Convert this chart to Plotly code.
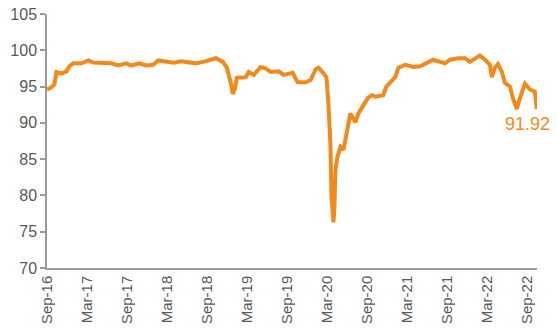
import plotly.graph_objects as go

dates = [
    "2016-09-01", "2016-09-08", "2016-09-21", "2016-10-05", "2016-10-14", "2016-11-06",
    "2016-11-29", "2016-12-12", "2016-12-30", "2017-02-05", "2017-03-09", "2017-03-31",
    "2017-06-21", "2017-07-23", "2017-08-28", "2017-09-20", "2017-10-26", "2017-11-27",
    "2017-12-29", "2018-01-21", "2018-02-26", "2018-04-03", "2018-05-05", "2018-07-12",
    "2018-08-27", "2018-10-11", "2018-11-12", "2018-11-30", "2018-12-18", "2018-12-27",
    "2019-01-05", "2019-01-14", "2019-02-24", "2019-03-10", "2019-04-02", "2019-05-03",
    "2019-05-26", "2019-06-18", "2019-07-24", "2019-08-16", "2019-09-26", "2019-10-19",
    "2019-11-24", "2019-12-17", "2020-01-09", "2020-01-22", "2020-02-09", "2020-02-27",
    "2020-03-07", "2020-03-16", "2020-03-21", "2020-03-30", "2020-04-03", "2020-04-08",
    "2020-04-17", "2020-05-01", "2020-05-15", "2020-06-02", "2020-06-15", "2020-07-08",
    "2020-07-22", "2020-08-09", "2020-09-05", "2020-09-23", "2020-10-07", "2020-11-12",
    "2020-11-26", "2021-01-06", "2021-01-20", "2021-02-20", "2021-03-29", "2021-04-30",
    "2021-06-27", "2021-08-21", "2021-09-13", "2021-10-19", "2021-11-20", "2021-12-12",
    "2022-01-27", "2022-02-19", "2022-03-13", "2022-03-22", "2022-04-05", "2022-04-19",
    "2022-05-07", "2022-05-21", "2022-06-13", "2022-06-26", "2022-07-14", "2022-07-28",
    "2022-08-20", "2022-09-12", "2022-10-04", "2022-10-13",
]
values = [
    94.6, 94.7, 94.9, 95.3, 97.0, 96.8,
    97.1, 97.8, 98.2, 98.2, 98.6, 98.3,
    98.2, 97.9, 98.2, 97.9, 98.2, 97.9,
    98.0, 98.6, 98.4, 98.3, 98.5, 98.2,
    98.5, 98.9, 98.4, 97.6, 95.5, 94.0,
    94.6, 96.2, 96.3, 97.0, 96.6, 97.7,
    97.5, 97.0, 97.1, 96.6, 96.9, 95.6,
    95.6, 95.9, 97.4, 97.6, 97.0, 96.3,
    92.7, 87.2, 80.0, 76.3, 78.0, 83.5,
    85.3, 86.7, 86.3, 89.4, 91.3, 90.1,
    91.3, 92.2, 93.5, 93.8, 93.6, 93.8,
    95.0, 96.3, 97.6, 98.0, 97.7, 97.8,
    98.7, 98.2, 98.7, 98.9, 98.9, 98.4,
    99.3, 98.7, 98.0, 96.3, 97.6, 98.1,
    97.0, 95.5, 95.0, 93.4, 91.9, 93.4,
    95.4, 94.6, 94.3, 91.92,
]

tick_dates = ["2016-09-01", "2017-03-01", "2017-09-01", "2018-03-01", "2018-09-01",
              "2019-03-01", "2019-09-01", "2020-03-01", "2020-09-01", "2021-03-01",
              "2021-09-01", "2022-03-01", "2022-09-01"]
tick_labels = ["Sep-16", "Mar-17", "Sep-17", "Mar-18", "Sep-18", "Mar-19", "Sep-19",
               "Mar-20", "Sep-20", "Mar-21", "Sep-21", "Mar-22", "Sep-22"]
last_label = "91.92"

orange = "#F28A1B"
axis_grey = "#9A9A9A"
text_grey = "#595959"

fig = go.Figure()
fig.add_trace(go.Scatter(x=dates, y=values, mode="lines",
                         line=dict(color=orange, width=4), hoverinfo="skip"))

fig.add_annotation(text=last_label, xref="paper", yref="y", x=0.98, y=89.9,
                   showarrow=False, xanchor="center", yanchor="middle",
                   font=dict(family="Liberation Sans, Arial", size=18, color=orange))

fig.update_layout(
    width=557, height=333,
    margin=dict(l=47, r=20, t=14, b=65, autoexpand=False),
    paper_bgcolor="white", plot_bgcolor="white",
    showlegend=False,
    font=dict(family="Liberation Sans, Arial", color=text_grey),
)
fig.update_xaxes(
    type="date", range=["2016-09-01", "2022-10-14"], automargin=False,
    tickmode="array", tickvals=tick_dates, ticktext=tick_labels,
    tickangle=-90, tickfont=dict(size=15, color=text_grey),
    showgrid=False, zeroline=False, showline=True, linecolor=axis_grey, linewidth=1.5,
    ticks="", ticklen=0,
)
fig.update_yaxes(
    range=[70, 105], dtick=5, tick0=70, automargin=False,
    tickfont=dict(size=16, color=text_grey),
    showgrid=False, zeroline=False, showline=True, linecolor=axis_grey, linewidth=1.5,
    ticks="outside", ticklen=5, tickcolor=axis_grey, tickwidth=1.5,
)

fig.write_html("out.html")
